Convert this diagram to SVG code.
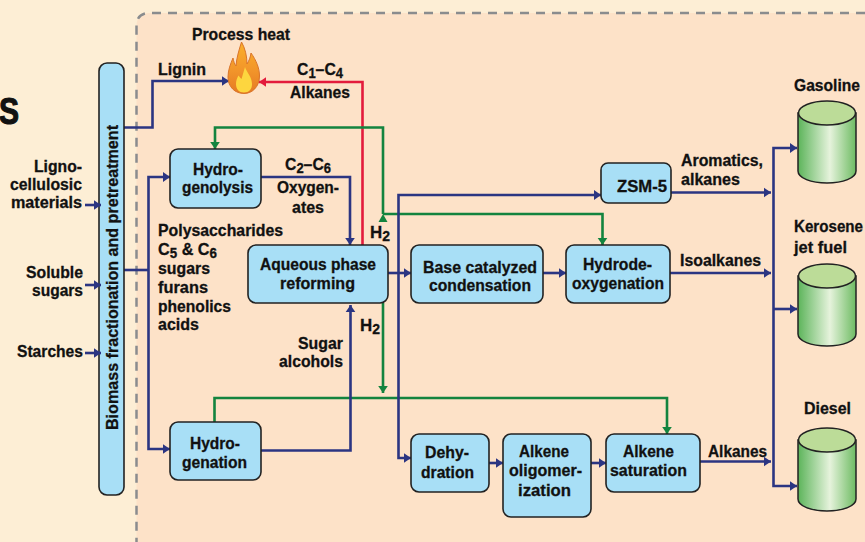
<svg xmlns="http://www.w3.org/2000/svg" width="865" height="542" viewBox="0 0 865 542">
<style>
text{font-family:"Liberation Sans",Arial,sans-serif;font-weight:700;font-size:17px;fill:#111;stroke:#111;stroke-width:.3}
.box{fill:#a8dff6;stroke:#222;stroke-width:1.6}
.c{fill:none;stroke-width:2.6;stroke-linejoin:miter}
.n{stroke:#2b3582}.r{stroke:#e31b3c}.g{stroke:#13843f}
.top{fill:#bcdc98;stroke:#222;stroke-width:1.5}
.body{fill:url(#cyl);stroke:#222;stroke-width:1.5}
</style>
<defs>
<marker id="an" markerUnits="userSpaceOnUse" markerWidth="9" markerHeight="12" refX="8" refY="6" orient="auto"><path d="M1 1.200L8 6L1 10.800Z" fill="#2b3582"/></marker>
<marker id="ar" markerUnits="userSpaceOnUse" markerWidth="9" markerHeight="12" refX="8" refY="6" orient="auto"><path d="M1 1.200L8 6L1 10.800Z" fill="#e31b3c"/></marker>
<marker id="ag" markerUnits="userSpaceOnUse" markerWidth="9" markerHeight="12" refX="8" refY="6" orient="auto"><path d="M1 1.200L8 6L1 10.800Z" fill="#13843f"/></marker>
<linearGradient id="cyl"><stop offset="0" stop-color="#5cb45a"/><stop offset=".55" stop-color="#e6f3dc"/><stop offset="1" stop-color="#6dbb62"/></linearGradient>
<linearGradient id="fl" x1="0" y1="0" x2="0" y2="1"><stop offset="0" stop-color="#fbb02a"/><stop offset=".55" stop-color="#f2952a"/><stop offset="1" stop-color="#e57a24"/></linearGradient>
</defs>
<rect width="865" height="542" fill="#fdeed5"/>
<path d="M865 13H150Q136.500 13 136.500 26V542H865Z" fill="#fde2c8"/>
<path d="M865 13H150Q136.500 13 136.500 26V542" fill="none" stroke="#8a8c8e" stroke-width="2.500" stroke-dasharray="9 7"/>
<text x="-1" y="124" style="font-size:37px;stroke-width:1.200" textLength="20" lengthAdjust="spacingAndGlyphs">S</text>

<g id="connectors">
<path class="c n" d="M124 127.500H152.500V81H229" marker-end="url(#an)"/>
<path class="c r" d="M362.500 245V82H259" marker-end="url(#ar)"/>
<path class="c g" d="M383 214V127.500H215V149" marker-end="url(#ag)"/>
<path d="M378.500 222L383 214L387.500 222Z" fill="#13843f"/>
<path class="c g" d="M383 214H602.500V245" marker-end="url(#ag)"/>
<path class="c g" d="M383 303V393" marker-end="url(#ag)"/>
<path class="c g" d="M214.500 422V398H667V434" marker-end="url(#ag)"/>
<path class="c n" d="M261 177H350V245" marker-end="url(#an)"/>
<path class="c n" d="M170 177H148.500V449H170" marker-end="url(#an)"/>
<path d="M163 172L170 177L163 182Z" fill="#2b3582"/>
<path class="c n" d="M124 270H148.500"/>
<path class="c n" d="M261 450.500H350.500V305" marker-end="url(#an)"/>
<path class="c n" d="M388 273H411" marker-end="url(#an)"/>
<path class="c n" d="M601 195H398.500V458H411" marker-end="url(#an)"/>
<path d="M594 190L601 195L594 200Z" fill="#2b3582"/>
<path class="c n" d="M543 273H566" marker-end="url(#an)"/>
<path class="c n" d="M670 273H771" marker-end="url(#an)"/>
<path class="c n" d="M670 192.500H771" marker-end="url(#an)"/>
<path class="c n" d="M700 461.500H771" marker-end="url(#an)"/>
<path class="c n" d="M489 463H503" marker-end="url(#an)"/>
<path class="c n" d="M591 463H606" marker-end="url(#an)"/>
<path class="c n" d="M797 148H773.500V486H797" marker-end="url(#an)"/>
<path d="M790 143L797 148L790 153Z" fill="#2b3582"/>
<path class="c n" d="M773.500 309H797" marker-end="url(#an)"/>
</g>

<g id="bar"><rect class="box" x="99" y="63" width="25" height="432" rx="8"/>
<text transform="translate(118 430) rotate(-90)" textLength="305" lengthAdjust="spacingAndGlyphs">Biomass fractionation and pretreatment</text></g>

<g id="inputs">
<path class="c n" d="M85 205H101" marker-end="url(#an)"/>
<path class="c n" d="M85 285H101" marker-end="url(#an)"/>
<path class="c n" d="M85 353H101" marker-end="url(#an)"/>
</g>

<g id="flame">
<path d="M241.500 42C245 48 247 56 247 64C249 61 250.500 57 251 53C256 60 259.500 68 259.500 76C259.500 87 252 93.500 244 93.500C235 93.500 228 87 228 77C228 70 230.500 64 233 58C233.500 61 234.500 64 236 66C236.500 58 239 50 241.500 42Z" fill="url(#fl)" stroke="#d9742a" stroke-width="1"/>
<path d="M245 67C246.500 72 252 77 252 84C252 89.500 249 92.500 244 92.500C239 92.500 236 89 236 84C236 81 237 78 238.500 75.500C239.500 77 240.500 78 241.500 79C242.500 75 244 71 245 67Z" fill="#fdd63f"/>
<text x="192" y="40" textLength="98" lengthAdjust="spacingAndGlyphs">Process heat</text>
</g>

<g id="hydrogenolysis"><rect class="box" x="170" y="149" width="91" height="59" rx="8"/>
<text x="193" y="175" textLength="50" lengthAdjust="spacingAndGlyphs">Hydro-</text>
<text x="182" y="193" textLength="71" lengthAdjust="spacingAndGlyphs">genolysis</text></g>
<g id="hydrogenation"><rect class="box" x="170" y="422" width="91" height="58" rx="8"/>
<text x="190" y="449" textLength="50" lengthAdjust="spacingAndGlyphs">Hydro-</text>
<text x="182" y="468" textLength="65" lengthAdjust="spacingAndGlyphs">genation</text></g>
<g id="aqueous"><rect class="box" x="248" y="245" width="140" height="58" rx="8"/>
<text x="260" y="270" textLength="116" lengthAdjust="spacingAndGlyphs">Aqueous phase</text>
<text x="280" y="289" textLength="75" lengthAdjust="spacingAndGlyphs">reforming</text></g>
<g id="base"><rect class="box" x="411" y="245" width="132" height="58" rx="8"/>
<text x="423" y="273" textLength="114" lengthAdjust="spacingAndGlyphs">Base catalyzed</text>
<text x="429" y="291" textLength="102" lengthAdjust="spacingAndGlyphs">condensation</text></g>
<g id="hydrode"><rect class="box" x="566" y="245" width="104" height="58" rx="8"/>
<text x="583" y="270" textLength="69" lengthAdjust="spacingAndGlyphs">Hydrode-</text>
<text x="572" y="289" textLength="92" lengthAdjust="spacingAndGlyphs">oxygenation</text></g>
<g id="zsm5"><rect class="box" x="601" y="163" width="70" height="40" rx="7"/>
<text x="617" y="192" textLength="50" lengthAdjust="spacingAndGlyphs">ZSM-5</text></g>
<g id="dehy"><rect class="box" x="411" y="434" width="78" height="58" rx="8"/>
<text x="425" y="458" textLength="44" lengthAdjust="spacingAndGlyphs">Dehy-</text>
<text x="421" y="478" textLength="53" lengthAdjust="spacingAndGlyphs">dration</text></g>
<g id="oligo"><rect class="box" x="503" y="434" width="88" height="83" rx="8"/>
<text x="519" y="457" textLength="50" lengthAdjust="spacingAndGlyphs">Alkene</text>
<text x="509" y="476" textLength="73" lengthAdjust="spacingAndGlyphs">oligomer-</text>
<text x="518" y="496" textLength="53" lengthAdjust="spacingAndGlyphs">ization</text></g>
<g id="saturation"><rect class="box" x="606" y="434" width="94" height="58" rx="8"/>
<text x="623" y="457" textLength="51" lengthAdjust="spacingAndGlyphs">Alkene</text>
<text x="610" y="476" textLength="77" lengthAdjust="spacingAndGlyphs">saturation</text></g>

<g id="gasoline"><path class="body" d="M798 113V171C798 178 811 183 827 183C843 183 856 178 856 171V113Z"/><ellipse class="top" cx="827" cy="113" rx="28.500" ry="12"/>
<text x="794" y="91" textLength="66" lengthAdjust="spacingAndGlyphs">Gasoline</text></g>
<g id="kerosene"><path class="body" d="M798 276V334C798 341 811 346 827 346C843 346 856 341 856 334V276Z"/><ellipse class="top" cx="827" cy="276" rx="28.500" ry="12"/>
<text x="794" y="232" textLength="69" lengthAdjust="spacingAndGlyphs">Kerosene</text>
<text x="794" y="253" textLength="53" lengthAdjust="spacingAndGlyphs">jet fuel</text></g>
<g id="diesel"><path class="body" d="M798 440V499C798 506 811 511 827 511C843 511 856 506 856 499V440Z"/><ellipse class="top" cx="827" cy="440" rx="28.500" ry="12"/>
<text x="804" y="414" textLength="47" lengthAdjust="spacingAndGlyphs">Diesel</text></g>

<g id="labels">
<text x="158" y="75" textLength="48" lengthAdjust="spacingAndGlyphs">Lignin</text>
<text x="297" y="75" textLength="46" lengthAdjust="spacingAndGlyphs">C<tspan dy="3" style="font-size:14px">1</tspan><tspan dy="-3">–C</tspan><tspan dy="3" style="font-size:14px">4</tspan></text>
<text x="290" y="98" textLength="60" lengthAdjust="spacingAndGlyphs">Alkanes</text>
<text x="34" y="172" textLength="48" lengthAdjust="spacingAndGlyphs">Ligno-</text>
<text x="10" y="190" textLength="72" lengthAdjust="spacingAndGlyphs">cellulosic</text>
<text x="11" y="208" textLength="71" lengthAdjust="spacingAndGlyphs">materials</text>
<text x="26" y="278" textLength="57" lengthAdjust="spacingAndGlyphs">Soluble</text>
<text x="32" y="296" textLength="51" lengthAdjust="spacingAndGlyphs">sugars</text>
<text x="17" y="357" textLength="66" lengthAdjust="spacingAndGlyphs">Starches</text>
<text x="285" y="170" textLength="46" lengthAdjust="spacingAndGlyphs">C<tspan dy="3" style="font-size:14px">2</tspan><tspan dy="-3">–C</tspan><tspan dy="3" style="font-size:14px">6</tspan></text>
<text x="277" y="193" textLength="62" lengthAdjust="spacingAndGlyphs">Oxygen-</text>
<text x="292" y="213" textLength="32" lengthAdjust="spacingAndGlyphs">ates</text>
<text x="158" y="236" textLength="125" lengthAdjust="spacingAndGlyphs">Polysaccharides</text>
<text x="158" y="255" textLength="59" lengthAdjust="spacingAndGlyphs">C<tspan dy="3" style="font-size:14px">5</tspan><tspan dy="-3"> &amp; C</tspan><tspan dy="3" style="font-size:14px">6</tspan></text>
<text x="158" y="274" textLength="52" lengthAdjust="spacingAndGlyphs">sugars</text>
<text x="158" y="293" textLength="50" lengthAdjust="spacingAndGlyphs">furans</text>
<text x="158" y="312" textLength="73" lengthAdjust="spacingAndGlyphs">phenolics</text>
<text x="158" y="330" textLength="41" lengthAdjust="spacingAndGlyphs">acids</text>
<text x="370" y="238" textLength="20" lengthAdjust="spacingAndGlyphs">H<tspan dy="3" style="font-size:14px">2</tspan></text>
<text x="360" y="331" textLength="20" lengthAdjust="spacingAndGlyphs">H<tspan dy="3" style="font-size:14px">2</tspan></text>
<text x="298" y="349" textLength="45" lengthAdjust="spacingAndGlyphs">Sugar</text>
<text x="279" y="367" textLength="64" lengthAdjust="spacingAndGlyphs">alcohols</text>
<text x="681" y="166" textLength="82" lengthAdjust="spacingAndGlyphs">Aromatics,</text>
<text x="681" y="185" textLength="59" lengthAdjust="spacingAndGlyphs">alkanes</text>
<text x="680" y="266" textLength="81" lengthAdjust="spacingAndGlyphs">Isoalkanes</text>
<text x="708" y="457" textLength="59" lengthAdjust="spacingAndGlyphs">Alkanes</text>
</g>
</svg>
